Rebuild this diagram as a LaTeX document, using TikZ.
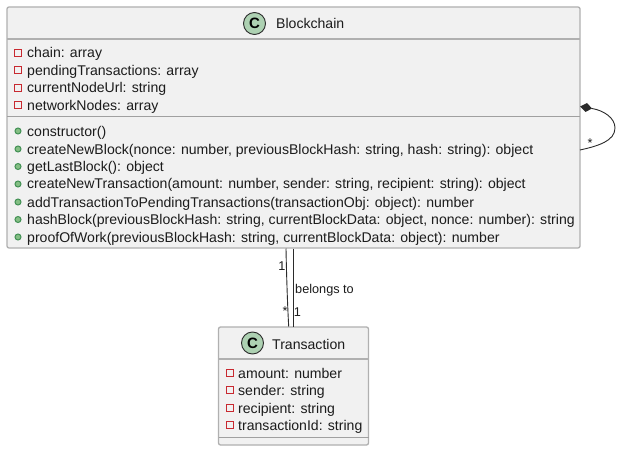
\documentclass[tikz,border=0pt]{standalone}
\usepackage{fontspec}
\setmainfont{Liberation Sans}
\definecolor{boxfill}{HTML}{F1F1F1}
\definecolor{boxline}{HTML}{B0B0B0}
\definecolor{divline}{HTML}{A0A0A0}
\definecolor{circfill}{HTML}{ADD1B2}
\definecolor{privred}{HTML}{C82930}
\definecolor{pubgreen}{HTML}{3F8F52}
\definecolor{pubfill}{HTML}{84BE84}
\definecolor{linkgray}{HTML}{2B2B2B}
\definecolor{txt}{HTML}{1C1C1C}
\tikzset{x=1pt,y=-1pt,
 classbox/.style={draw=boxline,line width=1.3pt,fill=boxfill,rounded corners=2pt,inner sep=0pt,outer sep=0pt,anchor=north west},
 divider/.style={draw=divline,line width=1pt},
 headdiv/.style={draw=boxline,line width=1.3pt},
 spot/.style={circle,draw=linkgray,line width=0.9pt,fill=circfill,minimum size=22pt,inner sep=0pt,font=\fontsize{15}{15}\selectfont\bfseries,text=black},
 title/.style={anchor=base west,inner sep=0pt,text=txt,font=\fontsize{14.08}{14}\selectfont},
 member/.style={anchor=base west,inner sep=0pt,text=txt,font=\fontsize{14.08}{14}\selectfont},
 priv/.style={draw=privred,line width=1pt,fill=none,minimum size=7pt,inner sep=0pt},
 pub/.style={circle,draw=pubgreen,fill=pubfill,line width=1pt,minimum size=6pt,inner sep=0pt},
 link/.style={draw=linkgray,line width=0.9pt},
 lab/.style={anchor=base,inner sep=0pt,text=txt,font=\fontsize{12.7}{12}\selectfont},
}
\begin{document}
\begin{tikzpicture}
\useasboundingbox (0,0) rectangle (622,452);
\fill[white] (0,0) rectangle (622,452);
% Blockchain
\node[classbox,minimum width=573pt,minimum height=241pt] (bc) at (7,7) {};
\coordinate (bcd1l) at (7,39); \coordinate (bcd1r) at (580,39);
\coordinate (bcd2l) at (7,117); \coordinate (bcd2r) at (580,117);
\draw[headdiv] (bcd1l) -- (bcd1r);
\draw[divider] (bcd2l) -- (bcd2r);
\node[spot] (bcspot) at (254.5,23.5) {C};
\node[title] (bctitle) at (276,29) {Blockchain};
\foreach \n/\y/\b/\t in {a1/53/58/chain: array,a2/70/75.5/pendingTransactions: array,a3/88/93/currentNodeUrl: string,a4/105/110.5/networkNodes: array}{
  \node[priv] (\n i) at (18,\y) {};
  \node[member] (\n) at (27,\b) {\t};
}
\foreach \n/\y/\b/\t in {m1/131/136/constructor(),
 m2/149/154/{createNewBlock(nonce: number, previousBlockHash: string, hash: string): object},
 m3/166.5/171.5/getLastBlock(): object,
 m4/184/189/{createNewTransaction(amount: number, sender: string, recipient: string): object},
 m5/202/207/addTransactionToPendingTransactions(transactionObj: object): number,
 m6/219.5/224.5/{hashBlock(previousBlockHash: string, currentBlockData: object, nonce: number): string},
 m7/237/242/{proofOfWork(previousBlockHash: string, currentBlockData: object): number}}{
  \node[pub] (\n i) at (18,\y) {};
  \node[member] (\n) at (27,\b) {\t};
}
% Transaction
\node[classbox,minimum width=150pt,minimum height=118pt] (tx) at (218.5,327) {};
\coordinate (txd1l) at (218.5,359); \coordinate (txd1r) at (368.5,359);
\coordinate (txd2l) at (218.5,437); \coordinate (txd2r) at (368.5,437);
\draw[headdiv] (txd1l) -- (txd1r);
\draw[divider] (txd2l) -- (txd2r);
\node[spot] (txspot) at (252.5,343) {C};
\node[title] (txtitle) at (272,349) {Transaction};
\foreach \n/\y/\b/\t in {t1/373/378/amount: number,t2/390/395.5/sender: string,t3/408/413/recipient: string,t4/425/430.5/transactionId: string}{
  \node[priv] (\n i) at (230,\y) {};
  \node[member] (\n) at (238,\b) {\t};
}
% Links
\coordinate (l1a) at (286,248.5); \coordinate (l1b) at (288.7,326.5);
\coordinate (l2a) at (293,248.5); \coordinate (l2b) at (293,326.5);
\draw[link] (l1a) .. controls (286.5,275) and (287.5,305) .. (l1b);
\draw[link] (l2a) -- (l2b);
\node[lab] (one1) at (282,270) {1};
\node[lab] (star1) at (285,315) {*};
\node[lab] (one2) at (297.5,316) {1};
\node[lab,anchor=base west] (belongs) at (295,293) {belongs to};
% Self loop
\coordinate (sdt) at (580,106.5); \coordinate (sdb) at (592,108.5);
\coordinate (sdu) at (587,103); \coordinate (sdd) at (585.5,112);
\coordinate (sa) at (580,150);
\fill[linkgray] (sdt) -- (sdu) -- (sdb) -- (sdd) -- cycle;
\draw[link] (sdb) .. controls (604,110.5) and (615,118) .. (615,128) .. controls (615,141) and (598,146) .. (sa);
\node[lab] (star2) at (590,147) {*};
\end{tikzpicture}
\end{document}
